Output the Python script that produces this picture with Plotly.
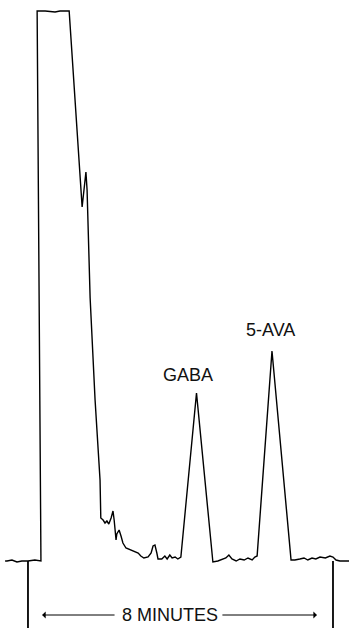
import plotly.graph_objects as go

# Chromatogram trace: time in minutes (0 = injection mark),
# detector response in arbitrary units (0 = baseline, 550 = pen limit)
time_min = [-0.60, -0.55, -0.42, -0.29, -0.16, 0.00, 0.18, 0.31, 0.34,
            0.24, 0.45, 0.71, 0.84, 1.08,
            1.42, 1.52, 1.55, 1.63, 1.76, 1.89, 1.91,
            1.97, 2.02, 2.07, 2.12, 2.18, 2.23, 2.26, 2.28, 2.31, 2.33, 2.39,
            2.44, 2.49, 2.57, 2.68, 2.78, 2.89, 2.96, 3.04, 3.15, 3.23, 3.28,
            3.33, 3.38, 3.41, 3.51, 3.59, 3.65, 3.72, 3.78, 3.86, 3.93, 4.01,
            4.42, 4.85,
            4.98, 5.09, 5.19, 5.27, 5.35, 5.46, 5.56, 5.67, 5.77, 5.88, 5.95, 6.01,
            6.40, 6.90,
            7.00, 7.13, 7.24, 7.34, 7.45, 7.55, 7.66, 7.80, 7.92, 8.00, 8.08,
            8.18, 8.31, 8.42]
response = [0, 0, 1, -1, 0, 0, 1, 0, 0,
            550, 550, 549, 550, 550,
            354, 389, 371, 263, 161, 81, 43,
            41, 38, 40, 37, 43, 50, 41, 29, 21, 27, 31,
            25, 18, 13, 11, 10, 8, 5, 3, 4, 8, 15,
            16, 8, 2, 2, 5, 2, 6, 3, 4, 2, 4,
            168, -1,
            0, 2, 3, 6, 2, 0, 2, 1, 3, 1, 4, 5,
            210, 1,
            1, 2, 3, 1, 3, 2, 4, 3, 5, 4, 1,
            0, 0, 0]

# Peak labels
peak_names = ["GABA", "5-AVA"]
peak_label_time = [4.20, 6.35]
peak_label_resp = [186, 231]

# Time-scale marks
mark_times = [0.0, 8.0]
scale_text = "8 MINUTES"
scale_mid = 3.72
scale_level = -54
arrow_ends = [0.37, 7.58]
arrow_starts = [2.31, 5.06]

fig = go.Figure()
fig.add_trace(go.Scatter(x=time_min, y=response, mode="lines",
                         line=dict(color="black", width=1.4),
                         hoverinfo="skip", showlegend=False))

for t in mark_times:
    fig.add_shape(type="line", x0=t, x1=t, y0=0, y1=-70, xref="x", yref="y",
                  line=dict(color="black", width=1.8))

font = dict(family="Liberation Sans, Arial, sans-serif", size=18, color="#111111")
for name, t, r in zip(peak_names, peak_label_time, peak_label_resp):
    fig.add_annotation(x=t, y=r, text=name, showarrow=False, font=font,
                       xanchor="center", yanchor="middle")

fig.add_annotation(x=scale_mid, y=scale_level, text=scale_text, showarrow=False,
                   font=font, xanchor="center", yanchor="middle")
for head, tail in zip(arrow_ends, arrow_starts):
    fig.add_annotation(x=head, y=scale_level, ax=tail, ay=scale_level,
                       xref="x", yref="y", axref="x", ayref="y", text="",
                       showarrow=True, arrowhead=1, arrowsize=1.2,
                       arrowwidth=1, arrowcolor="black")

fig.update_layout(width=349, height=628, margin=dict(l=0, r=0, t=0, b=0),
                  paper_bgcolor="white", plot_bgcolor="white")
fig.update_xaxes(range=[-0.734, 8.42], visible=False, showgrid=False, zeroline=False)
fig.update_yaxes(range=[-67, 561], visible=False, showgrid=False, zeroline=False)

fig.write_html("out.html", config={"displayModeBar": False},
               post_script="document.body.style.margin='0';document.body.style.overflow='hidden';")
